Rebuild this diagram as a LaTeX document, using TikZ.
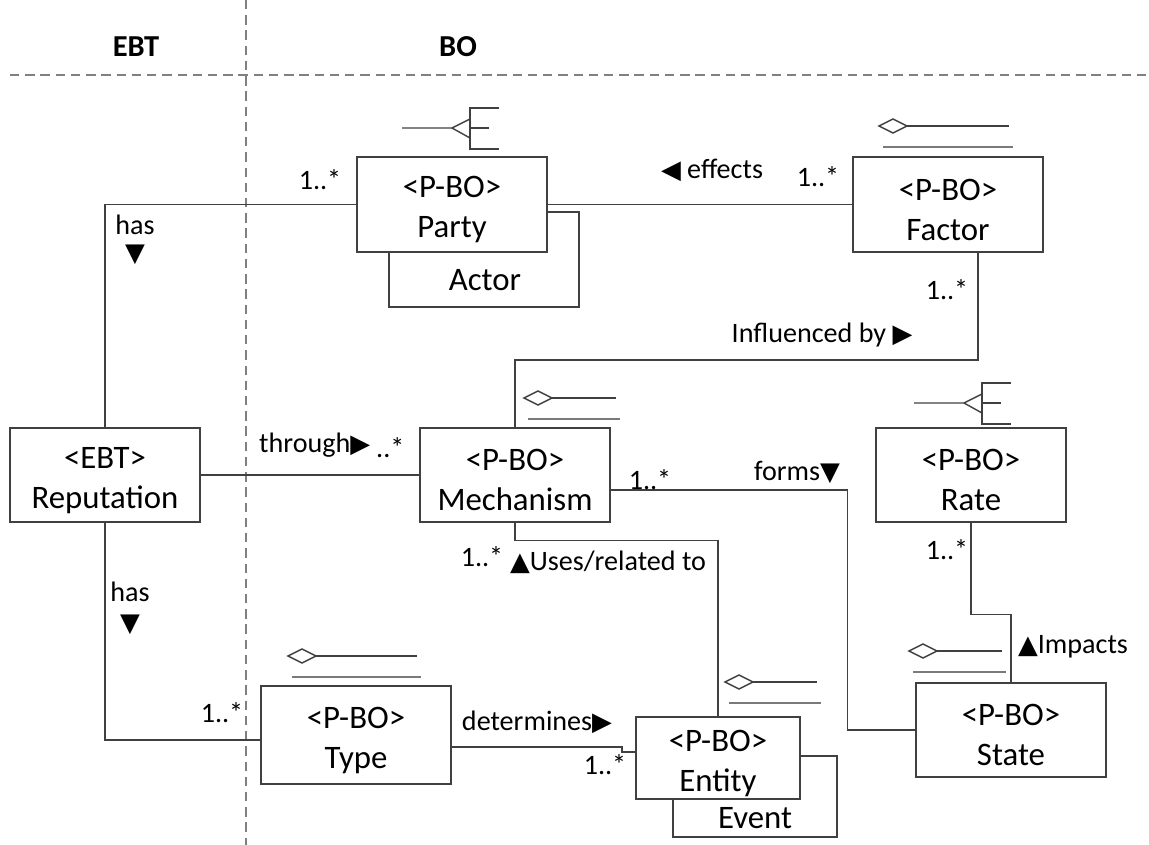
\documentclass[tikz,border=0pt]{standalone}
\usepackage{fontspec}
\setmainfont{Carlito}
\newfontfamily\dejavu{DejaVu Sans}
\usetikzlibrary{calc}
\definecolor{linec}{HTML}{404040}
\definecolor{lowc}{HTML}{7A7A7A}
\newcommand\tri[1]{{\fontsize{22}{22}\selectfont\dejavu #1}}
\newcommand\bt[2]{\rule{0pt}{27pt}#1\\#2}
\newcommand\agg[3]{%
  \begin{scope}[shift={(#1,#2)}]
    \draw[icon] (0,0) -- (14,-7) -- (28,0) -- (14,7) -- cycle;
    \draw[icon] (28,0) -- (#3,0);
    \draw[lowline] (4,21) -- ({#3+4},21);
  \end{scope}}
\newcommand\crow[2]{%
  \begin{scope}[shift={(#1,#2)}]
    \draw[icon] (0,0) -- (50,0) -- (68,-9);
    \draw[icon] (50,0) -- (68,10);
    \draw[icon] (97,-20) -- (68,-20) -- (68,21) -- (97,21);
    \draw[icon] (68,0) -- (87,0);
  \end{scope}}
\tikzset{
  box/.style={draw=linec, line width=1.2pt, fill=white, minimum width=5.7cm, minimum height=2.85cm,
    align=center, inner sep=0pt, font=\fontsize{28}{34}\selectfont},
  lbl/.style={inner sep=0pt, font=\fontsize{24}{28}\selectfont},
  conn/.style={draw=linec, line width=1.2pt},
  icon/.style={draw=linec, line width=1.2pt},
  lowline/.style={draw=lowc, line width=2.2pt},
  sep/.style={draw=gray, line width=1.2pt, dash pattern=on 8pt off 5pt}
}
\begin{document}
\begin{tikzpicture}[x=0.03cm, y=-0.03cm]
\useasboundingbox (0,0) rectangle (1149,845);
% separators
\draw[sep] (10,75) -- (1149,75);
\draw[sep] (246,0) -- (246,845);
\node[inner sep=0pt, font=\fontsize{26}{30}\selectfont\bfseries] (ebt) at (136,47) {EBT};
\node[inner sep=0pt, font=\fontsize{26}{30}\selectfont\bfseries] (bo) at (458,47) {BO};

% boxes
\node[box] (actor) at (484,259.5) {};
\node[lbl, font=\fontsize{28}{34}\selectfont] (actortext) at (485,280) {Actor};
\node[box] (party) at (452,204.5) {\bt{<P-BO>}{Party}};
\node[box] (factor) at (948,204.5) {\bt{<P-BO>}{Factor}};
\node[box, minimum height=2.82cm] (rep) at (105,475) {\bt{<EBT>}{Reputation}};
\node[box, minimum height=2.82cm] (mech) at (515,475) {\bt{<P-BO>}{Mechanism}};
\node[box, minimum height=2.82cm] (rate) at (971,475) {\bt{<P-BO>}{Rate}};
\node[box, minimum height=2.94cm] (type) at (356,735) {\bt{<P-BO>}{Type}};
\node[box, minimum width=4.92cm, minimum height=2.43cm] (event) at (755,796.5) {};
\node[lbl, font=\fontsize{28}{34}\selectfont] (eventtext) at (755,818) {Event};
\node[box, minimum width=4.92cm, minimum height=2.46cm] (entity) at (718,758) {\bt{<P-BO>}{Entity}};
\node[box, minimum height=2.82cm] (state) at (1011,730) {\bt{<P-BO>}{State}};

% icons
\crow{402}{128}
\crow{914}{403}
\agg{879}{126}{130}
\agg{524}{398}{92}
\agg{909}{651}{93}
\agg{288}{656}{129}
\agg{725}{682}{92}

% connectors
\draw[conn] (party.west) -| (rep.north);
\draw[conn] (party.east) -- (factor.west);
\draw[conn] ($(factor.south)+(30,0)$) |- (515,360) -- (mech.north);
\draw[conn] (rep.east) -- (mech.west);
\draw[conn] ($(mech.east)+(0,15)$) -| ($(state.west)+(-68,0)$) -- (state.west);
\draw[conn] (mech.south) -- ++(0,18) -| (entity.north);
\draw[conn] (rep.south) |- ($(type.west)+(0,5)$);
\draw[conn] ($(type.east)+(0,12)$) -- (622,747) |- ($(entity.west)+(0,-6)$);
\draw[conn] (rate.south) -- ++(0,92) -| (state.north);

% labels
\node[lbl] (l1) at (135,225) {has};
\node[lbl] (l1t) at (135,255) {\tri{▼}};
\node[lbl] (m1) at (320,180) {1..*};
\node[lbl] (l2) at (712,170) {\tri{◀} effects};
\node[lbl] (m2) at (818,177) {1..*};
\node[lbl] (m3) at (947,290) {1..*};
\node[lbl] (l3) at (822,335) {Influenced by \tri{▶}};
\node[lbl, anchor=west] (l4) at (259,445) {through\tri{▶}};
\node[lbl, anchor=west] (m4) at (376,448) {..*};
\node[lbl] (m5) at (650,480) {1..*};
\node[lbl] (l5) at (797,472) {forms\tri{▼}};
\node[lbl] (m6) at (482,557) {1..*};
\node[lbl] (l6) at (608,562) {\tri{▲}Uses/related to};
\node[lbl] (l7) at (130,592) {has};
\node[lbl] (l7t) at (130,625) {\tri{▼}};
\node[lbl] (m7) at (222,713) {1..*};
\node[lbl] (l8) at (537,722) {determines\tri{▶}};
\node[lbl] (m8) at (605,765) {1..*};
\node[lbl] (m9) at (947,550) {1..*};
\node[lbl] (l9) at (1073,647) {\tri{▲}Impacts};
\end{tikzpicture}
\end{document}
